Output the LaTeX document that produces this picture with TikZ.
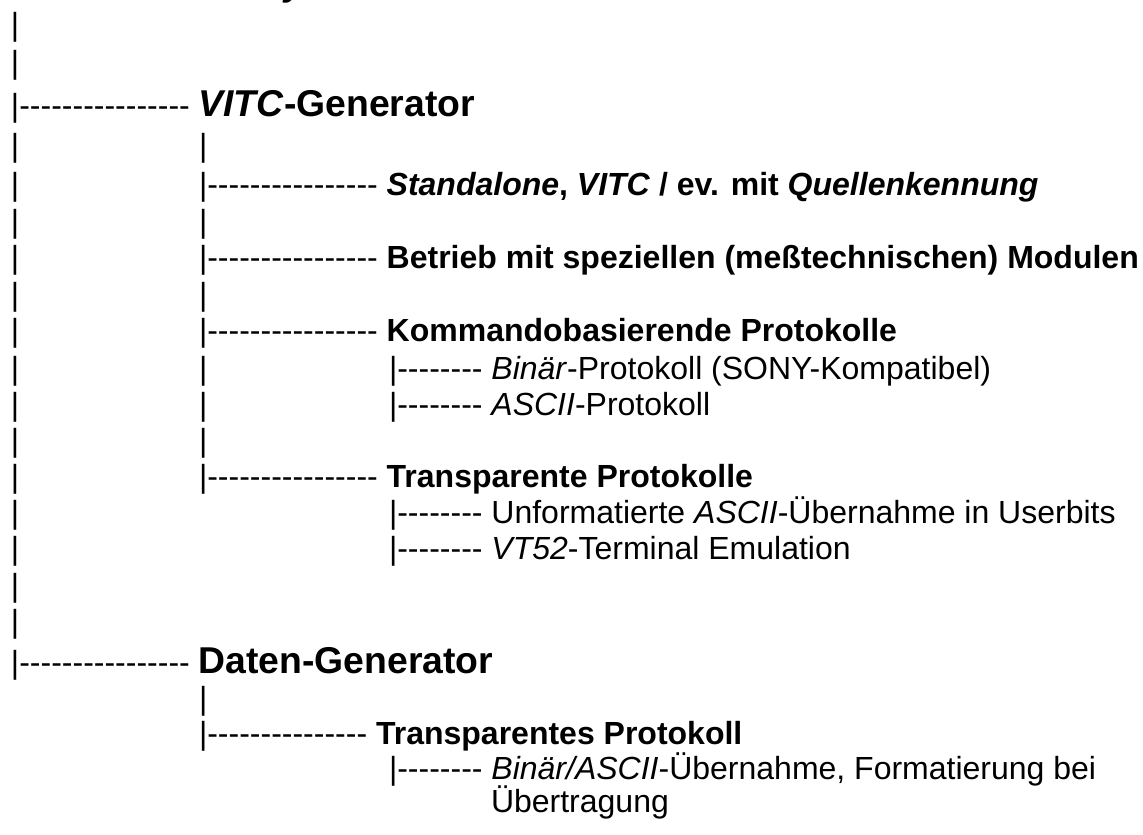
\documentclass[tikz,border=0pt]{standalone}
\usepackage{fontspec}
\newfontfamily\lsans{Liberation Sans}
\newcommand{\bigf}{\fontsize{28}{32}\selectfont\bfseries}
\tikzset{
  txt/.style={anchor=base west, inner sep=0pt, outer sep=0pt, font=\lsans\fontsize{24}{28}\selectfont},
}
\begin{document}
\begin{tikzpicture}[x=0.75pt,y=-0.75pt]
\useasboundingbox (0,0) rectangle (1143,835);
% column origins: 11, 199, 389
\node[txt] (r0) at (284,-5) {\bigf\itshape y};
\node[txt] (r1a) at (11,36) {|};
\node[txt] (r2a) at (11,73) {|};
\node[txt] (r3a) at (11,116) {|---------------- {\bigf\textit{VITC}-Generator}};
\node[txt] (r4a) at (11,156) {|};
\node[txt] (r4b) at (199,156) {|};
\node[txt] (r5a) at (11,195) {|};
\node[txt] (r5b) at (199,195) {|---------------- \textbf{\textit{Standalone}, \textit{VITC} / ev. mit \textit{Quellenkennung}}};
\node[txt] (r6a) at (11,232) {|};
\node[txt] (r6b) at (199,232) {|};
\node[txt] (r7a) at (11,268) {|};
\node[txt] (r7b) at (199,268) {|---------------- \textbf{Betrieb mit speziellen (meßtechnischen) Modulen}};
\node[txt] (r8a) at (11,305) {|};
\node[txt] (r8b) at (199,305) {|};
\node[txt] (r9a) at (11,341) {|};
\node[txt] (r9b) at (199,341) {|---------------- \textbf{Kommandobasierende Protokolle}};
\node[txt] (r10a) at (11,379) {|};
\node[txt] (r10b) at (199,379) {|};
\node[txt] (r10c) at (389,379) {|-------- \textit{Binär}-Protokoll (SONY-Kompatibel)};
\node[txt] (r11a) at (11,415) {|};
\node[txt] (r11b) at (199,415) {|};
\node[txt] (r11c) at (389,415) {|-------- \textit{ASCII}-Protokoll};
\node[txt] (r12a) at (11,451) {|};
\node[txt] (r12b) at (199,451) {|};
\node[txt] (r13a) at (11,487) {|};
\node[txt] (r13b) at (199,487) {|---------------- \textbf{Transparente Protokolle}};
\node[txt] (r14a) at (11,523) {|};
\node[txt] (r14c) at (389,523) {|-------- Unformatierte \textit{ASCII}-Übernahme in Userbits};
\node[txt] (r15a) at (11,559) {|};
\node[txt] (r15c) at (389,559) {|-------- \textit{VT52}-Terminal Emulation};
\node[txt] (r16a) at (11,596) {|};
\node[txt] (r17a) at (11,632) {|};
\node[txt] (r18a) at (11,673) {|---------------- {\bigf Daten-Generator}};
\node[txt] (r19b) at (199,709) {|};
\node[txt] (r20b) at (199,744) {|--------------- \textbf{Transparentes Protokoll}};
\node[txt] (r21c) at (389,779) {|-------- \textit{Binär/ASCII}-Übernahme, Formatierung bei};
\node[txt] (r22c) at (491,812) {Übertragung};
\end{tikzpicture}
\end{document}
